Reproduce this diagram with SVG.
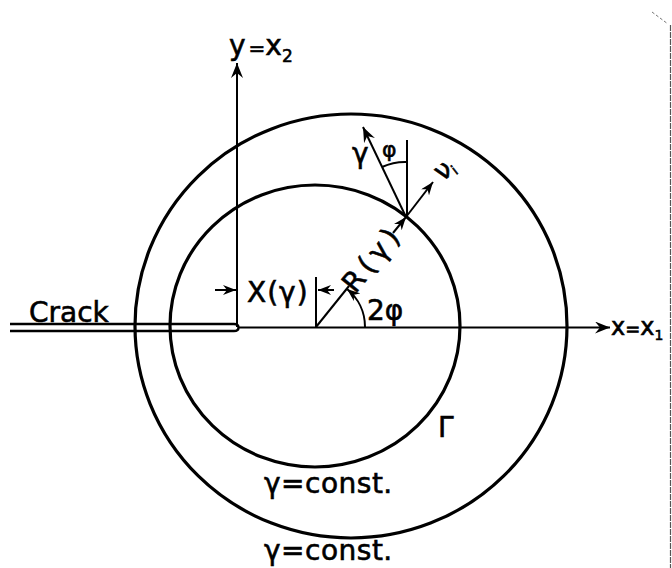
<svg xmlns="http://www.w3.org/2000/svg" width="672" height="568" viewBox="0 0 672 568">
<style>
  text { font-family: "DejaVu Sans", "Liberation Sans", sans-serif; fill: #000; stroke: #000; stroke-width: 0.6; }
  .lbl { font-size: 28px; }
  .ln { stroke: #000; stroke-width: 2; fill: none; }
  .cir { stroke: #000; stroke-width: 3.2; fill: none; }
</style>
<defs>
  <marker id="ah" markerUnits="userSpaceOnUse" markerWidth="16" markerHeight="12" refX="15" refY="6" orient="auto">
    <path d="M0,0 L15,6 L0,12 L5,6 Z" fill="#000"/>
  </marker>
  <marker id="ahs" markerUnits="userSpaceOnUse" markerWidth="14" markerHeight="10" refX="13" refY="5" orient="auto">
    <path d="M0,0 L13,5 L0,10 L4,5 Z" fill="#000"/>
  </marker>
</defs>
<rect width="672" height="568" fill="#fff"/>

<g id="contours">
  <ellipse id="outer" class="cir" cx="351" cy="326" rx="216" ry="212"/>
  <ellipse id="inner" class="cir" cx="315" cy="326" rx="145" ry="141"/>
</g>

<g id="crack">
  <path d="M10,324 H234 Q238.5,324 238.5,327.5 Q238.5,331 234,331 H10" stroke="#000" stroke-width="2.4" fill="none"/>
  <text class="lbl" x="29" y="322">Crack</text>
</g>

<g id="connectors">
  <line id="y-axis" class="ln" x1="237" y1="327" x2="237" y2="63" marker-end="url(#ah)"/>
  <line id="x-axis" class="ln" x1="238" y1="327.5" x2="610" y2="327.5" marker-end="url(#ah)"/>
  <line class="ln" x1="316" y1="277" x2="316" y2="327"/>
  <line class="ln" x1="334" y1="290" x2="318" y2="290" marker-end="url(#ahs)"/>
  <line class="ln" x1="215" y1="290" x2="236" y2="290" marker-end="url(#ahs)"/>
  <line class="ln" x1="316" y1="327" x2="349" y2="286"/>
  <line class="ln" x1="393" y1="233" x2="406" y2="217" marker-end="url(#ahs)"/>
  <path class="ln" d="M365,327 A49,49 0 0 0 347,289" marker-end="url(#ahs)"/>
  <line class="ln" x1="406" y1="217" x2="363" y2="127" marker-end="url(#ah)"/>
  <line class="ln" x1="407" y1="217" x2="407" y2="140"/>
  <line class="ln" x1="406" y1="217" x2="433" y2="182" marker-end="url(#ahs)"/>
  <path class="ln" d="M382,167 A55,55 0 0 1 407,162"/>
</g>

<g id="labels">
  <text class="lbl" x="229" y="55">y<tspan font-size="20" dx="3">=</tspan><tspan>x</tspan><tspan font-size="17" dy="7">2</tspan></text>
  <text x="611" y="335" font-size="24">x<tspan font-size="18">=</tspan><tspan>x</tspan><tspan font-size="14" dy="5">1</tspan></text>

  <text class="lbl" x="247" y="302" letter-spacing="1">X(γ)</text>
  <text class="lbl" x="367" y="320">2φ</text>
  <text class="lbl" transform="translate(372,258) rotate(-51)" x="0" y="10" text-anchor="middle" letter-spacing="5">R(γ)</text>
  <text class="lbl" x="352" y="163">γ</text>
  <text x="382" y="157" font-size="22">φ</text>
  <text transform="translate(445,171) rotate(-38)" x="-9" y="7" font-size="27">ν<tspan font-size="14" dy="3">i</tspan></text>
  <text class="lbl" x="438" y="437">Γ</text>
  <text class="lbl" x="264" y="493" letter-spacing="0.5">γ=const.</text>
  <text class="lbl" x="264" y="560" letter-spacing="0.5">γ=const.</text>
</g>

<g id="border">
  <line x1="670.5" y1="25" x2="670.5" y2="568" stroke="#555" stroke-width="1.2" stroke-dasharray="6,1"/>
  <line x1="652" y1="12" x2="668" y2="24" stroke="#777" stroke-width="1" stroke-dasharray="3,2"/>
</g>
</svg>
